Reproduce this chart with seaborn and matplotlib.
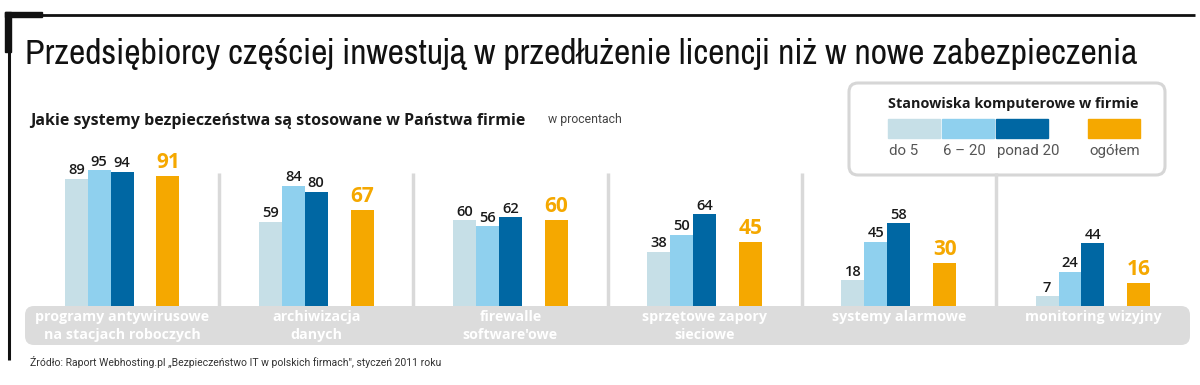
import numpy as np
import pandas as pd
import seaborn as sns
import matplotlib.pyplot as plt
from matplotlib import font_manager
from matplotlib.patches import FancyBboxPatch, Rectangle

# --- DATA ---
kategorie = [
    "programy antywirusowe\nna stacjach roboczych",
    "archiwizacja\ndanych",
    "firewalle\nsoftware'owe",
    "sprzętowe zapory\nsieciowe",
    "systemy alarmowe",
    "monitoring wizyjny",
]
do_5 = [89, 59, 60, 38, 18, 7]
od_6_do_20 = [95, 84, 56, 50, 45, 24]
ponad_20 = [94, 80, 62, 64, 58, 44]
ogolem = [91, 67, 60, 45, 30, 16]
serie = ["do 5", "6 – 20", "ponad 20", "", "ogółem"]  # "" = odstęp przed "ogółem"
kolory = ["#c6dfe7", "#8fd0ee", "#0067a3", "#ffffff", "#f5a800"]

tytul = "Przedsiębiorcy częściej inwestują w przedłużenie licencji niż w nowe zabezpieczenia"
podtytul = "Jakie systemy bezpieczeństwa są stosowane w Państwa firmie"
jednostka = "w procentach"
legenda_tytul = "Stanowiska komputerowe w firmie"
zrodlo = "Źródło: Raport Webhosting.pl „Bezpieczeństwo IT w polskich firmach\", styczeń 2011 roku"

# --- FONTS ---
sns.set_theme(style="white")
installed = sorted({f.name for f in font_manager.fontManager.ttflist})
narrow_cands = [n for n in installed if "Condensed" in n or "Narrow" in n]
narrow = narrow_cands[0] if narrow_cands else "Roboto"
light = ["Roboto", "DejaVu Sans"]
bold = "Open Sans"
plt.rcParams["font.family"] = [bold, "DejaVu Sans"]

rows = []
for i, k in enumerate(kategorie):
    for s, vals in zip(serie, [do_5, od_6_do_20, ponad_20, [0] * 6, ogolem]):
        rows.append({"kategoria": k, "seria": s, "wartosc": vals[i]})
df = pd.DataFrame(rows)

fig = plt.figure(figsize=(12, 3.85), dpi=100)

# background overlay in pixel coordinates
bg = fig.add_axes([0, 0, 1, 1], zorder=0)
bg.set_xlim(0, 1200)
bg.set_ylim(385, 0)
bg.axis("off")

# frame lines
bg.plot([5, 1195], [15, 15], color="#111111", lw=2.0, solid_capstyle="butt")
bg.add_patch(Rectangle((5, 12), 37, 5, color="#111111"))
bg.plot([9, 9], [12, 360], color="#111111", lw=2.2, solid_capstyle="butt")
bg.add_patch(Rectangle((5, 12), 6, 40, color="#111111"))

# title, shrunk to fit the reference width
t = bg.text(25, 64, tytul, family=[narrow, "DejaVu Sans"], fontsize=26.5, color="#111111", va="baseline")
fig.canvas.draw()
w = t.get_window_extent().width
t.set_fontsize(26.5 * min(1.0, 1118 / w))

bg.text(30, 121, podtytul, fontsize=11.5, fontweight="bold", color="#1a1a1a", va="center")
bg.text(548, 119, jednostka, family=light, fontsize=8.8, color="#444444", va="center")

# category band
bg.add_patch(FancyBboxPatch((25, 306), 1165, 39, boxstyle="round,pad=0,rounding_size=9",
                            fc="#dcdcdc", ec="none"))

# legend box
bg.add_patch(FancyBboxPatch((849, 83), 316, 92, boxstyle="round,pad=0,rounding_size=9",
                            fc="white", ec="#d6d6d6", lw=2.2))
bg.text(888, 104, legenda_tytul, fontsize=10.4, fontweight="bold", color="#1a1a1a", va="center")
leg_x = [888, 942, 996, None, 1088]
for s, c, lx in zip(serie, kolory, leg_x):
    if lx is None:
        continue
    bg.add_patch(Rectangle((lx, 119), 52, 19, color=c))
    bg.text(lx + 1, 151, s, family=light, fontsize=10.8, color="#555555", va="center")

bg.text(30, 362, zrodlo, family=light, fontsize=7.45, color="#333333", va="center")

# bar axes
ax = fig.add_axes([25 / 1200, (385 - 306) / 385, 1165 / 1200, 143 / 385], zorder=1)
ax.patch.set_alpha(0)
sns.barplot(data=df, x="kategoria", y="wartosc", hue="seria", hue_order=serie,
            palette=kolory, width=0.59, gap=0, linewidth=0, saturation=1,
            legend=False, ax=ax)
ax.set_xlim(-0.5, 5.5)
ax.set_ylim(0, 100)
ax.axis("off")

# group separators
ax.vlines(np.arange(len(kategorie) - 1) + 0.5, 0, 93, color="#d9d9d9", lw=2.5, zorder=0)

for idx, cont in enumerate(ax.containers):
    if idx == 3:
        continue
    if idx == 4:
        ax.bar_label(cont, padding=2, fontsize=15, fontweight="bold", color="#f5a800")
    else:
        ax.bar_label(cont, padding=1, fontsize=10.5, fontweight="semibold", color="#1a1a1a")

for i, k in enumerate(kategorie):
    ax.text(i, -3, k, ha="center", va="top", fontsize=10.3, fontweight="bold",
            color="white", linespacing=1.3, clip_on=False)

fig.savefig("out.png", dpi=100)
